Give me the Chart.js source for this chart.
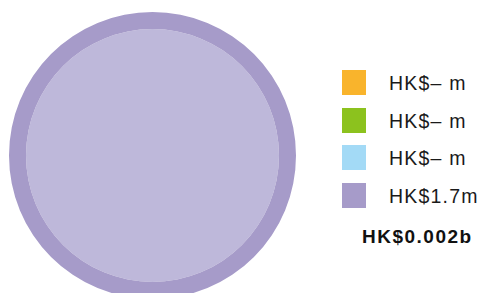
<!DOCTYPE html>
<html>
<head>
<meta charset="utf-8">
<script src="https://cdn.jsdelivr.net/npm/chart.js@4"></script>
<style>
  html, body { margin: 0; padding: 0; background: #fff; overflow: hidden; width: 479px; height: 293px; }
  #pieBox { position: absolute; left: 9px; top: 12px; width: 287px; height: 287px; }
  #legend { position: absolute; left: 342px; top: 70px; font-family: "Liberation Sans", Arial, sans-serif; color: #1a1a1a; }
  .row { position: relative; height: 37.5px; }
  .sw { position: absolute; left: 0; top: 0; width: 24px; height: 25px; }
  .lbl { position: absolute; left: 47px; top: 1px; font-size: 19.5px; line-height: 25px; letter-spacing: 1.2px; white-space: nowrap; }
  #total { position: absolute; left: 362px; top: 226px; font-family: "Liberation Sans", Arial, sans-serif; font-weight: bold; font-size: 19px; letter-spacing: 1.5px; color: #111; white-space: nowrap; }
</style>
</head>
<body>
<div id="pieBox"><canvas id="pie"></canvas></div>
<div id="legend"></div>
<div id="total"></div>
<script>
// values (HK$ m)
const labels = ['HK$– m', 'HK$– m', 'HK$– m', 'HK$1.7m'];
const values = [0, 0, 0, 1.7];
const colors = ['#f9b42c', '#8cc21e', '#a3daf6', '#a69bc9'];
const fills = ['#f9b42c', '#8cc21e', '#a3daf6', '#beb8da'];
const totalLabel = 'HK$0.002b';

const legend = document.getElementById('legend');
labels.forEach((text, i) => {
    const row = document.createElement('div');
    row.className = 'row';
    const sw = document.createElement('div');
    sw.className = 'sw';
    sw.style.background = colors[i];
    const lbl = document.createElement('div');
    lbl.className = 'lbl';
    lbl.textContent = text;
    row.appendChild(sw);
    row.appendChild(lbl);
    legend.appendChild(row);
});
document.getElementById('total').textContent = totalLabel;

// outer dataset = darker rim, inner dataset = lighter body
const ctx = document.getElementById('pie').getContext('2d');
new Chart(ctx, {
    type: 'pie',
    data: {
        labels: labels,
        datasets: [{
            data: values,
            backgroundColor: colors,
            borderWidth: 0,
            weight: 17
        }, {
            data: values,
            backgroundColor: fills,
            borderWidth: 0,
            weight: 126.5
        }]
    },
    options: {
        responsive: true,
        maintainAspectRatio: false,
        animation: false,
        hoverOffset: 0,
        layout: { padding: 0 },
        plugins: {
            legend: { display: false },
            tooltip: { enabled: false }
        }
    }
});
</script>
</body>
</html>
